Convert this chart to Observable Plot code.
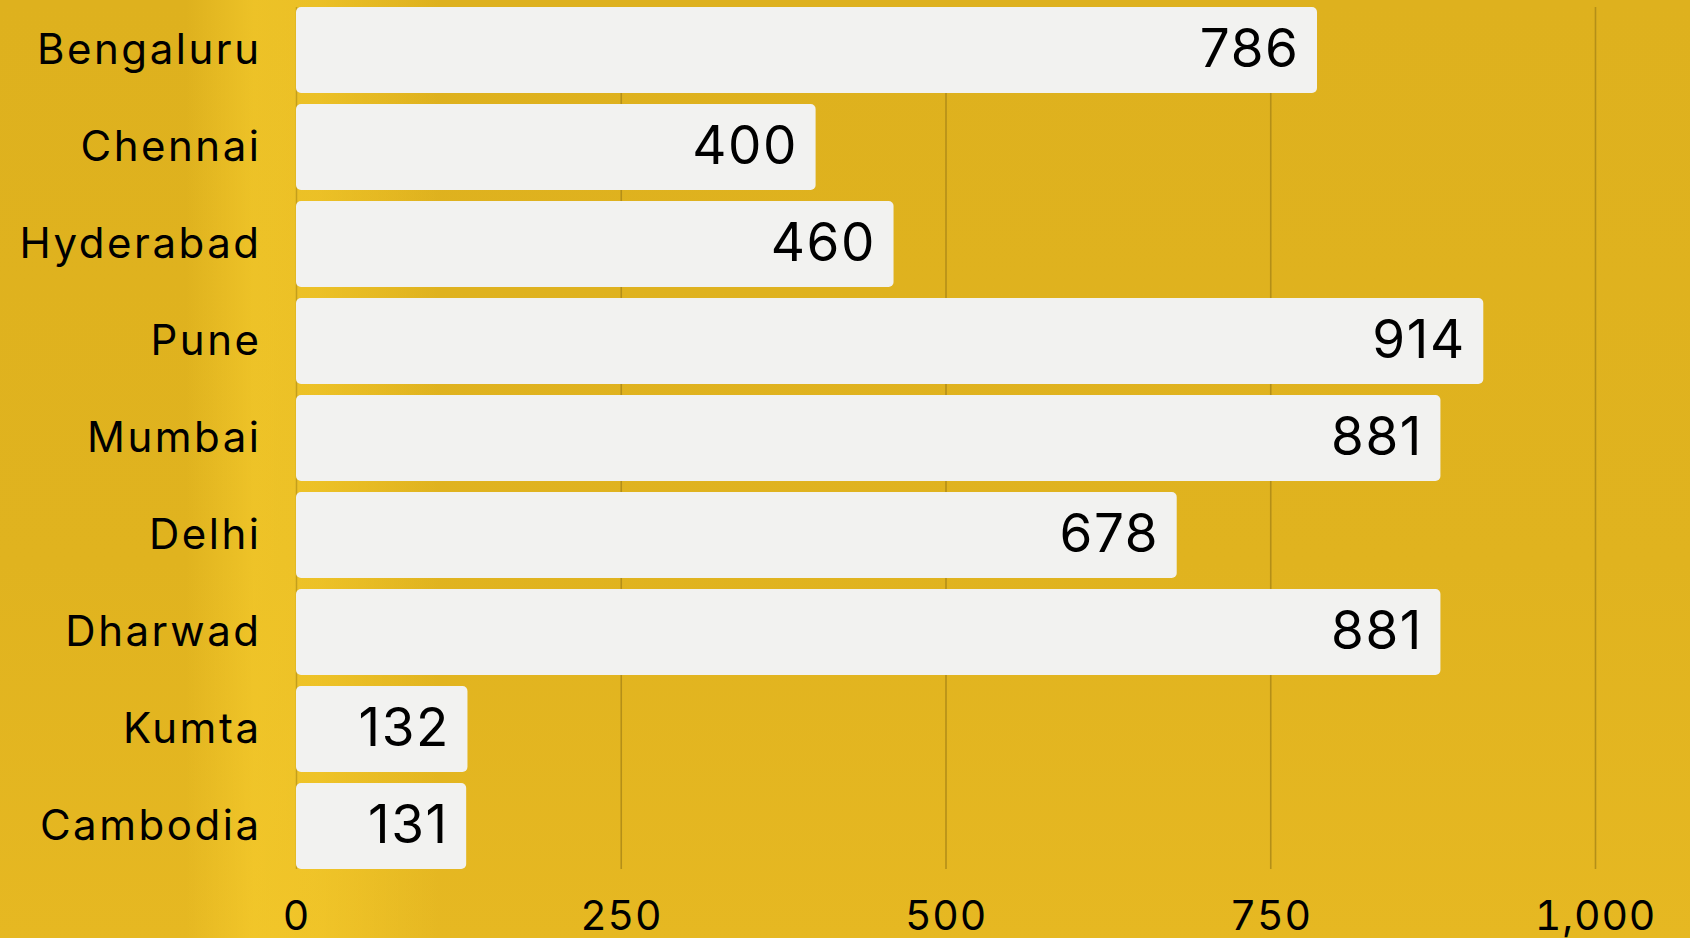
<!DOCTYPE html>
<html>
<head>
<meta charset="utf-8">
<script src="https://cdn.jsdelivr.net/npm/d3@7"></script>
<script src="https://cdn.jsdelivr.net/npm/@observablehq/plot@0.6"></script>
<style>
  html, body { margin: 0; padding: 0; }
  body {
    width: 1690px; height: 938px; overflow: hidden;
    background:
      linear-gradient(90deg, rgba(255,214,50,0) 0%, rgba(255,214,50,0) 11%, rgba(255,214,50,0.45) 15%, rgba(255,214,50,0.4) 19%, rgba(255,214,50,0) 26%),
      linear-gradient(180deg, #deb11e 0%, #e0b31f 60%, #e6b822 100%);
    font-family: Inter, "Open Sans", sans-serif;
  }
  #chart svg { display: block; }
  #chart svg g[aria-label="y-axis tick label"] text { letter-spacing: 0.06em; }
  #chart svg g[aria-label="x-axis tick label"] text { letter-spacing: 0.02em; }
  #chart svg g[aria-label="text"] text { letter-spacing: 0.03em; }
</style>
</head>
<body>
<div id="chart"></div>
<script>
const cities = ["Bengaluru", "Chennai", "Hyderabad", "Pune", "Mumbai", "Delhi", "Dharwad", "Kumta", "Cambodia"];
const values = [786, 400, 460, 914, 881, 678, 881, 132, 131];
const xTicks = [0, 250, 500, 750, 1000];

const data = cities.map((c, i) => ({city: c, value: values[i]}));

const chart = Plot.plot({
  width: 1690,
  height: 938,
  marginTop: 7,
  marginBottom: 69,
  marginLeft: 296,
  marginRight: 95,
  style: {background: "transparent", fontFamily: "Inter, 'Open Sans', sans-serif", color: "#000"},
  x: {domain: [0, 1000], label: null},
  y: {domain: cities, paddingInner: 0.116, paddingOuter: 0, label: null},
  marks: [
    Plot.ruleX(xTicks.filter(d => d > 0), {stroke: "#b48f18", strokeWidth: 1.6}),
    Plot.ruleX([0], {stroke: "#c49e1c", strokeWidth: 1.5}),
    Plot.barX(data, {x: "value", y: "city", fill: "#f2f2f0", rx: 5}),
    Plot.text(data, {x: "value", y: "city", text: d => String(d.value), textAnchor: "end", dx: -18, fontSize: 53, fill: "#000"}),
    Plot.axisY({tickSize: 0, tickPadding: 35, fontSize: 42, label: null}),
    Plot.axisX(xTicks, {tickSize: 0, tickPadding: 31, fontSize: 41, label: null, tickFormat: d3.format(",")})
  ]
});
document.getElementById("chart").appendChild(chart);
</script>
</body>
</html>
